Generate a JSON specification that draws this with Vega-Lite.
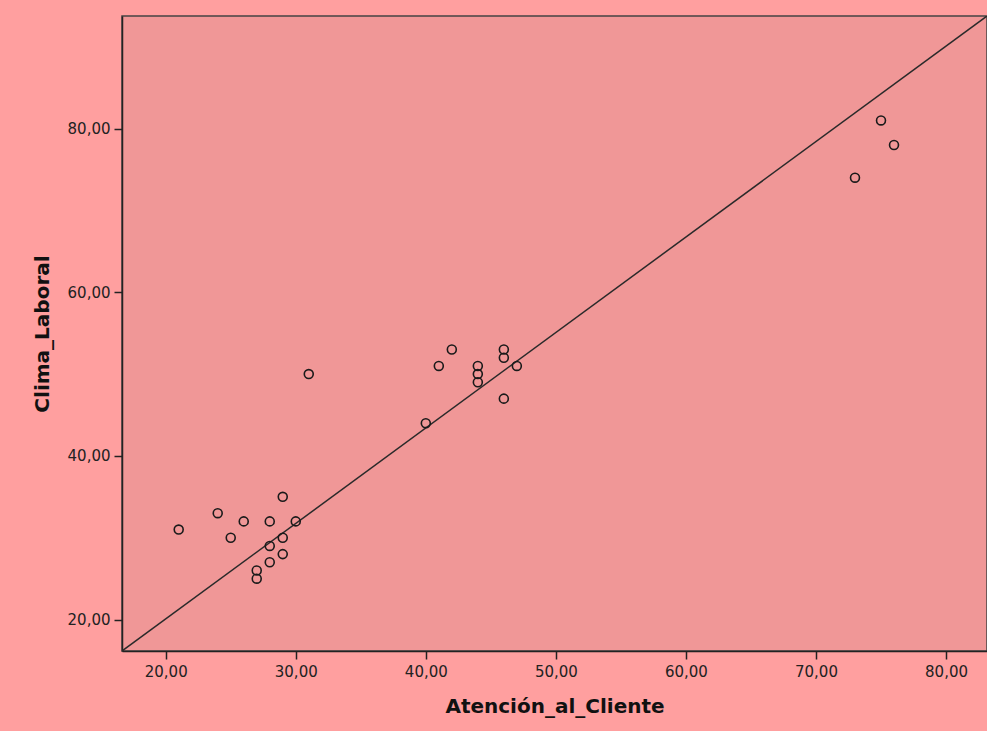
{
  "$schema": "https://vega.github.io/schema/vega-lite/v6.json",
  "width": 865,
  "height": 635,
  "autosize": {"type": "none"},
  "padding": {"left": 122, "top": 16, "right": 0, "bottom": 80},
  "background": "#FF9F9F",
  "config": {
    "view": {"fill": "#F09797", "stroke": "#444444", "strokeWidth": 1.5},
    "axis": {
      "grid": false,
      "domainColor": "#222222",
      "domainWidth": 1.5,
      "tickColor": "#222222",
      "tickWidth": 1.5,
      "tickSize": 8,
      "labelFont": "DejaVu Sans",
      "labelFontSize": 15,
      "labelColor": "#222222",
      "titleFont": "DejaVu Sans",
      "titleFontWeight": "bold",
      "titleFontSize": 20,
      "titleColor": "#111111"
    }
  },
  "data": {
    "values": [
      {"Atencion": 21, "Clima": 31},
      {"Atencion": 24, "Clima": 33},
      {"Atencion": 25, "Clima": 30},
      {"Atencion": 26, "Clima": 32},
      {"Atencion": 27, "Clima": 26},
      {"Atencion": 27, "Clima": 25},
      {"Atencion": 28, "Clima": 32},
      {"Atencion": 28, "Clima": 29},
      {"Atencion": 28, "Clima": 27},
      {"Atencion": 29, "Clima": 35},
      {"Atencion": 29, "Clima": 30},
      {"Atencion": 29, "Clima": 28},
      {"Atencion": 30, "Clima": 32},
      {"Atencion": 31, "Clima": 50},
      {"Atencion": 40, "Clima": 44},
      {"Atencion": 41, "Clima": 51},
      {"Atencion": 42, "Clima": 53},
      {"Atencion": 44, "Clima": 51},
      {"Atencion": 44, "Clima": 50},
      {"Atencion": 44, "Clima": 49},
      {"Atencion": 46, "Clima": 53},
      {"Atencion": 46, "Clima": 52},
      {"Atencion": 46, "Clima": 47},
      {"Atencion": 47, "Clima": 51},
      {"Atencion": 73, "Clima": 74},
      {"Atencion": 75, "Clima": 81},
      {"Atencion": 76, "Clima": 78}
    ]
  },
  "layer": [
    {
      "data": {"values": [{"x1": 16.64, "y1": 16.16, "x2": 83.15, "y2": 93.76}]},
      "mark": {"type": "rule", "color": "#2a2a2a", "strokeWidth": 1.5, "clip": true},
      "encoding": {
        "x": {"field": "x1", "type": "quantitative"},
        "y": {"field": "y1", "type": "quantitative"},
        "x2": {"field": "x2"},
        "y2": {"field": "y2"}
      }
    },
    {
      "mark": {"type": "point", "shape": "circle", "filled": false, "stroke": "#1a1a1a", "strokeWidth": 1.6, "size": 80, "opacity": 1},
      "encoding": {
        "x": {
          "field": "Atencion",
          "type": "quantitative",
          "scale": {"domain": [16.64, 83.15], "nice": false, "zero": false},
          "axis": {
            "title": "Atención_al_Cliente",
            "values": [20, 30, 40, 50, 60, 70, 80],
            "labelExpr": "replace(format(datum.value, '.2f'), '.', ',')",
            "labelPadding": 5,
            "titlePadding": 17
          }
        },
        "y": {
          "field": "Clima",
          "type": "quantitative",
          "scale": {"domain": [16.16, 93.76], "nice": false, "zero": false},
          "axis": {
            "title": "Clima_Laboral",
            "values": [20, 40, 60, 80],
            "labelExpr": "replace(format(datum.value, '.2f'), '.', ',')",
            "labelPadding": 4,
            "titlePadding": 15
          }
        }
      }
    }
  ]
}
